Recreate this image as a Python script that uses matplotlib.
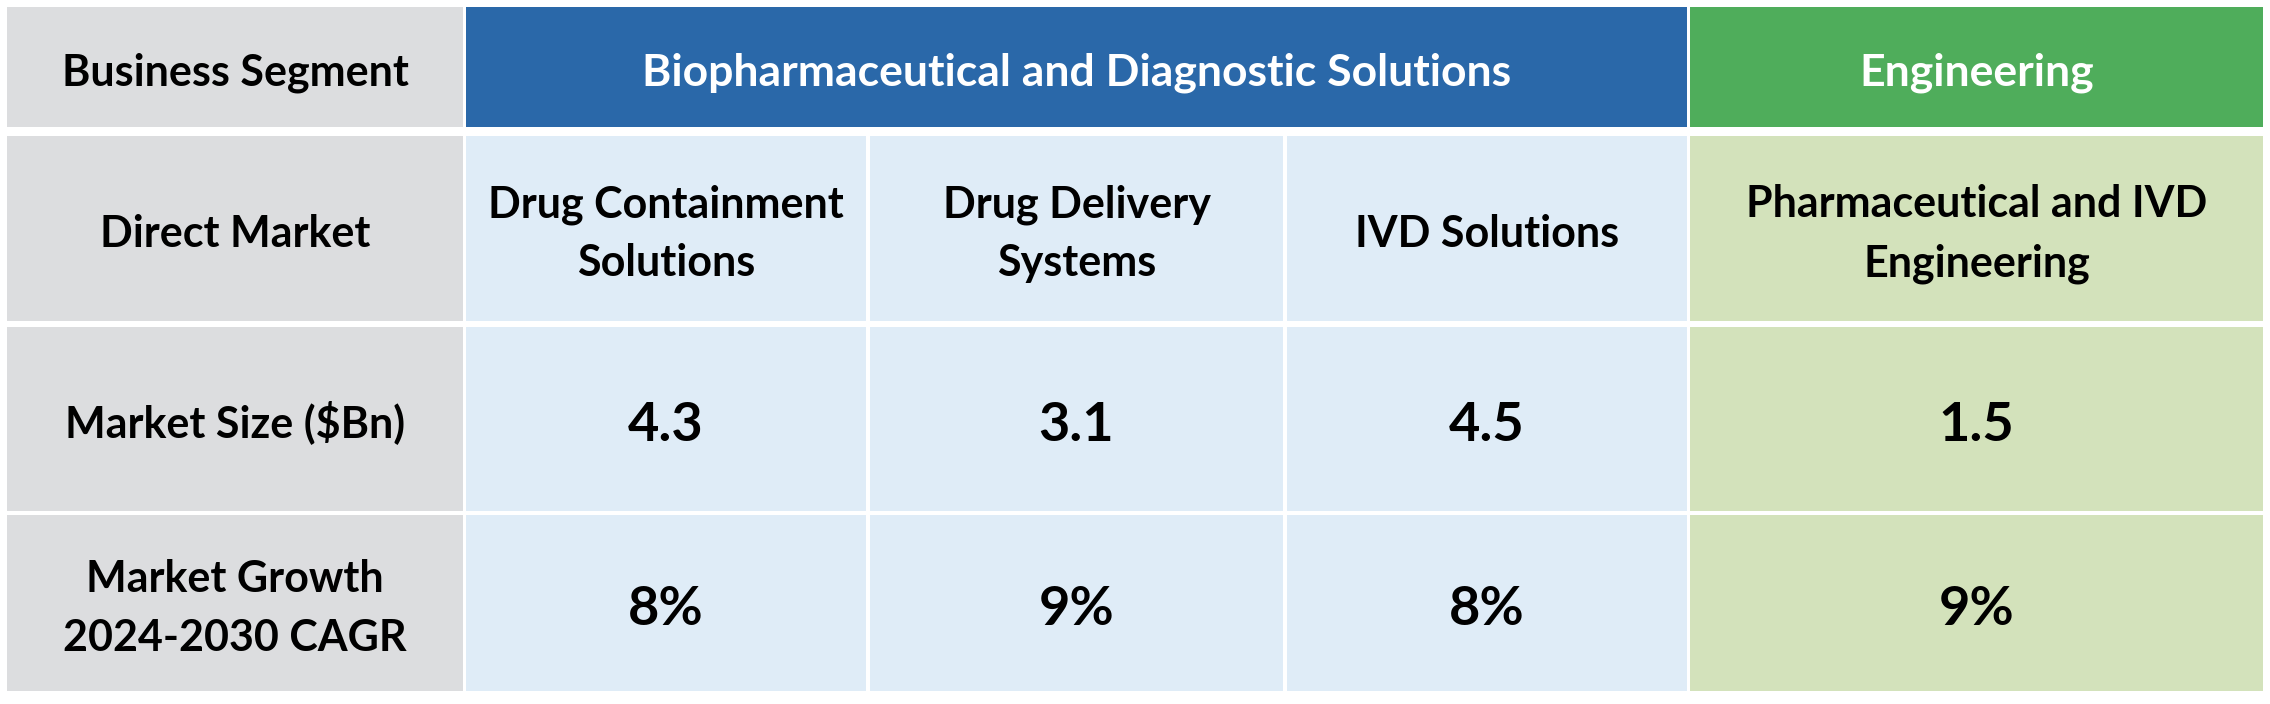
import matplotlib
matplotlib.use("Agg")
import matplotlib.pyplot as plt
from matplotlib.patches import Rectangle

# ---- data ----
row_labels = ["Business Segment", "Direct Market", "Market Size ($Bn)", "Market Growth\n2024-2030 CAGR"]
segments = ["Biopharmaceutical and Diagnostic Solutions", "Engineering"]
segment_span = [3, 1]  # number of markets per segment
markets = ["Drug Containment\nSolutions", "Drug Delivery\nSystems", "IVD Solutions",
           "Pharmaceutical and IVD\nEngineering"]
market_size = [4.3, 3.1, 4.5, 1.5]
market_growth = [8, 9, 8, 9]  # percent CAGR 2024-2030

# ---- style ----
GRAY = "#DCDDDF"
BLUE = "#2A68A9"
LBLUE = "#DFECF7"
GREEN = "#4FAD5B"
LGREEN = "#D3E2BB"
FONT = "Lato"
CAP = 0.7165  # cap height / em for Lato

W, H = 2270, 704
DPI = 100
fig = plt.figure(figsize=(W / DPI, H / DPI), dpi=DPI)
ax = fig.add_axes([0, 0, 1, 1])
ax.set_xlim(0, W)
ax.set_ylim(H, 0)
ax.axis("off")

# layout (pixel grid)
col_x = [(7, 463), (466, 866), (870, 1283), (1287, 1687), (1690, 2263)]
row_y = [(7, 127), (136, 321), (327, 511), (515, 691)]

def cell(x0, x1, y0, y1, color):
    ax.add_patch(Rectangle((x0, y0), x1 - x0, y1 - y0, facecolor=color, edgecolor="none"))

def txt(x, yc, s, size, color="black", pitch=59, shift=3):
    lines = s.split("\n")
    n = len(lines)
    cap = CAP * size * DPI / 72
    first = yc + shift + cap / 2 - (n - 1) * pitch / 2
    for i, line in enumerate(lines):
        ax.text(x, first + i * pitch, line, ha="center", va="baseline", fontsize=size,
                fontweight="bold", color=color, family=FONT)

LBL = 31
HDR = 32
NUM = 39

# row label column
for (y0, y1), lab in zip(row_y, row_labels):
    cell(col_x[0][0], col_x[0][1], y0, y1, GRAY)
    txt((col_x[0][0] + col_x[0][1]) / 2, (y0 + y1) / 2, lab, LBL)

# header row: segments
seg_colors = [BLUE, GREEN]
ci = 1
for seg, span, c in zip(segments, segment_span, seg_colors):
    x0 = col_x[ci][0]
    x1 = col_x[ci + span - 1][1]
    y0, y1 = row_y[0]
    cell(x0, x1, y0, y1, c)
    txt((x0 + x1) / 2, (y0 + y1) / 2, seg, HDR, color="white")
    ci += span

# body cells
body_colors = []
for span, c in zip(segment_span, [LBLUE, LGREEN]):
    body_colors += [c] * span

for j in range(len(markets)):
    x0, x1 = col_x[j + 1]
    xc = (x0 + x1) / 2
    rows = [(markets[j], LBL), (f"{market_size[j]:.1f}", NUM), (f"{market_growth[j]}%", NUM)]
    for (y0, y1), (s, fs) in zip(row_y[1:], rows):
        cell(x0, x1, y0, y1, body_colors[j])
        txt(xc, (y0 + y1) / 2, s, fs)

fig.savefig("out.png", dpi=DPI, facecolor="white")
